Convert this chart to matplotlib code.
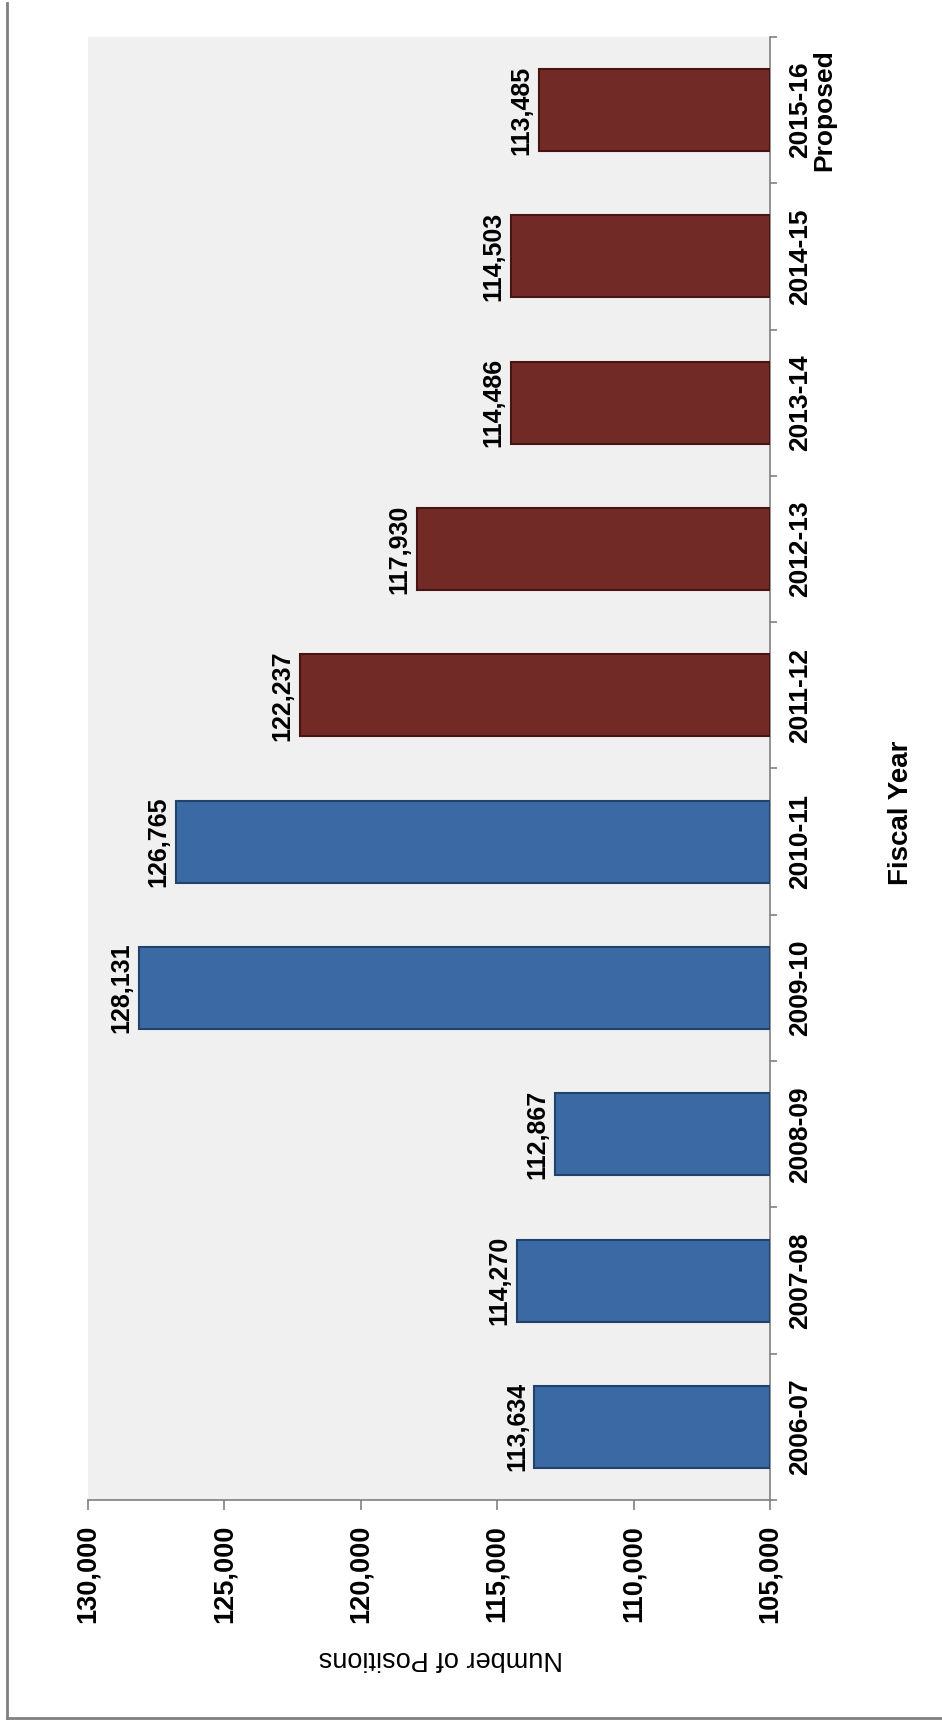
import numpy as np
import matplotlib.pyplot as plt
from matplotlib.lines import Line2D

# data (fiscal years, number of positions)
years = ["2006-07", "2007-08", "2008-09", "2009-10", "2010-11",
         "2011-12", "2012-13", "2013-14", "2014-15", "2015-16\nProposed"]
positions = [113634, 114270, 112867, 128131, 126765,
             122237, 117930, 114486, 114503, 113485]
bar_colors = ["#3b69a3"] * 5 + ["#722a27"] * 5
edge_colors = ["#22426e"] * 5 + ["#471412"] * 5
value_ticks = [105000, 110000, 115000, 120000, 125000, 130000]
base = 105000

fig = plt.figure(figsize=(9.42, 17.26), dpi=100)
ax = fig.add_axes([88/942, 226/1726, 682/942, 1463/1726])
ax.set_facecolor("#f0f0f0")

y = np.arange(len(years))
vals = np.array(positions) - base
ax.barh(y, vals, left=base, height=0.56, color=bar_colors,
        edgecolor=edge_colors, linewidth=1.5, zorder=3)

ax.set_xlim(130000, 105000)
ax.set_ylim(-0.5, len(years) - 0.5)

for s in ["left", "top"]:
    ax.spines[s].set_visible(False)
for s in ["bottom", "right"]:
    ax.spines[s].set_color("#808080")
    ax.spines[s].set_linewidth(1.2)

ax.set_xticks(value_ticks)
ax.set_xticklabels(["{:,}".format(v) for v in value_ticks], rotation=90,
                   fontsize=19.5, fontweight="bold", family="Liberation Sans")
ax.tick_params(axis="x", length=7, width=1.2, color="#808080", pad=11)

ax.yaxis.tick_right()
ax.set_yticks(y)
ax.set_yticklabels(years, rotation=90, va="center", ha="left",
                   multialignment="center", fontsize=19, fontweight="bold",
                   family="Liberation Sans", linespacing=1.0)
ax.set_yticks(np.arange(-0.5, len(years), 1), minor=True)
ax.tick_params(axis="y", which="major", length=0, pad=13)
ax.tick_params(axis="y", which="minor", length=5, width=1.2, color="#808080")

for yi, v in zip(y, positions):
    ax.annotate("{:,}".format(v), xy=(v, yi), xytext=(-4, 0),
                textcoords="offset points", rotation=90, ha="right",
                va="center", fontsize=18, fontweight="bold",
                family="Liberation Sans", zorder=4)

fig.text(441/942, 1 - 1658/1726, "Number of Positions", rotation=180,
         ha="center", va="center", fontsize=19.5, family="Liberation Sans")
fig.text(901/942, 1 - 813/1726, "Fiscal Year", rotation=90,
         ha="center", va="center", fontsize=20, fontweight="bold",
         family="Liberation Sans")

# outer frame lines
fig.add_artist(Line2D([7/942, 7/942], [1 - 3/1726, 1 - 1718/1726],
                      color="#808080", linewidth=2, transform=fig.transFigure))
fig.add_artist(Line2D([7/942, 1], [1 - 1718/1726, 1 - 1718/1726],
                      color="#808080", linewidth=2, transform=fig.transFigure))

fig.savefig("out.png", dpi=100)
